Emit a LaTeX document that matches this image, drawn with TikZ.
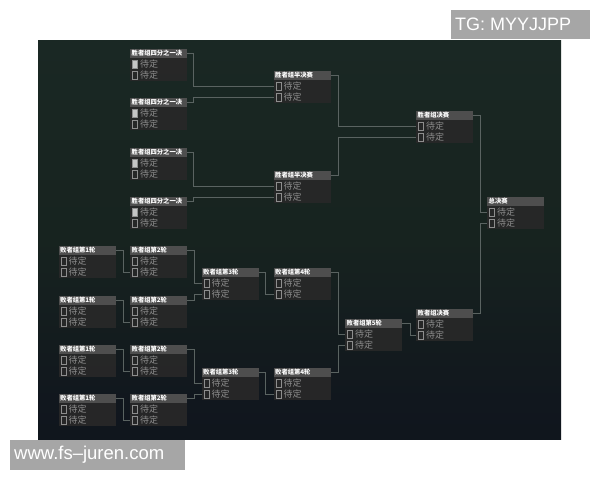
\documentclass[tikz,border=0pt]{standalone}
\usepackage{fontspec}
\setmainfont{Liberation Sans}
\newfontfamily\cjk{Noto Sans CJK SC}
\usetikzlibrary{calc}
\definecolor{pbot}{HTML}{0B0E19}
\definecolor{pmida}{HTML}{11171E}
\definecolor{pmidb}{HTML}{17231F}
\definecolor{pmidc}{HTML}{1A2824}
\definecolor{ptop}{HTML}{040605}
\definecolor{hdrc}{HTML}{4E4E4E}
\definecolor{bodyc}{HTML}{282828}
\definecolor{rowc}{HTML}{8E8E8E}
\definecolor{connc}{HTML}{5A6361}
\definecolor{wmc}{HTML}{A6A6A6}
\pgfdeclareverticalshading{panelshade}{100bp}{color(0bp)=(pbot); color(30bp)=(pmida); color(50bp)=(pmidb); color(75bp)=(pmidc); color(92bp)=(pmidc!55!ptop); color(100bp)=(ptop)}
\tikzset{
  boxbody/.style={rectangle, fill=bodyc, fill opacity=0.93, minimum width=57pt, minimum height=32pt, inner sep=0pt},
  hdrtext/.style={text=white, font=\cjk\bfseries\fontsize{6.3}{6.3}\selectfont, inner sep=0pt},
  rowtext/.style={text=rowc, font=\cjk\fontsize{9}{9}\selectfont, inner sep=0pt},
  chk/.style={rectangle, draw=rowc, line width=0.6pt, minimum width=5pt, minimum height=8pt, inner sep=0pt},
  chkon/.style={fill=rowc!50!white},
  chkoff/.style={},
  conn/.style={draw=connc, line width=0.8pt},
  wmtext/.style={text=white, inner sep=0pt}
}
\newcommand\bbox[5]{%
  \node[boxbody, anchor=north west] (#1) at (#2,#3) {};
  \fill[hdrc] (#1.north west) rectangle ($(#1.north east)+(0,8.5)$);
  \node[hdrtext, anchor=west] (#1-t) at ($(#1.north west)+(1.5,4.3)$) {#4};
  \node[chk, #5] (#1-c1) at ($(#1.north west)+(5,15.5)$) {};
  \node[rowtext, anchor=west] (#1-a) at ($(#1.north west)+(10,15.5)$) {待定};
  \node[chk] (#1-c2) at ($(#1.north west)+(5,26.5)$) {};
  \node[rowtext, anchor=west] (#1-b) at ($(#1.north west)+(10,26.5)$) {待定};
  \coordinate (#1-h) at ($(#1.north east)+(0,4.3)$);
  \coordinate (#1-r1) at ($(#1.north west)+(0,15.5)$);
  \coordinate (#1-r2) at ($(#1.north west)+(0,26.5)$);
}
\begin{document}
\begin{tikzpicture}[x=1pt,y=-1pt]
\useasboundingbox (0,0) rectangle (600,480);
\fill[white] (0,0) rectangle (600,480);
\shade[shading=panelshade] (38,40) rectangle (561,439);
% winners bracket
\bbox{q1}{130}{49}{胜者组四分之一决}{chkon}
\bbox{q2}{130}{98}{胜者组四分之一决}{chkon}
\bbox{q3}{130}{148}{胜者组四分之一决}{chkon}
\bbox{q4}{130}{197}{胜者组四分之一决}{chkon}
\bbox{s1}{273.5}{71}{胜者组半决赛}{chkoff}
\bbox{s2}{273.5}{171}{胜者组半决赛}{chkoff}
\bbox{wf}{416}{111}{胜者组决赛}{chkoff}
\bbox{gf}{487}{197}{总决赛}{chkoff}
% losers bracket
\bbox{la}{58.5}{246}{败者组第1轮}{chkoff}
\bbox{lb}{58.5}{296}{败者组第1轮}{chkoff}
\bbox{lc}{58.5}{345}{败者组第1轮}{chkoff}
\bbox{ld}{58.5}{394}{败者组第1轮}{chkoff}
\bbox{ma}{130}{246}{败者组第2轮}{chkoff}
\bbox{mb}{130}{296}{败者组第2轮}{chkoff}
\bbox{mc}{130}{345}{败者组第2轮}{chkoff}
\bbox{md}{130}{394}{败者组第2轮}{chkoff}
\bbox{na}{201.5}{268}{败者组第3轮}{chkoff}
\bbox{nb}{201.5}{368}{败者组第3轮}{chkoff}
\bbox{oa}{273.5}{268}{败者组第4轮}{chkoff}
\bbox{ob}{273.5}{368}{败者组第4轮}{chkoff}
\bbox{p5}{345}{319}{败者组第5轮}{chkoff}
\bbox{lf}{416}{309}{败者组决赛}{chkoff}
% connectors winners
\draw[conn] (q1-h) -- ++(6,0) |- (s1-r1);
\draw[conn] (q2-h) -- ++(6,0) |- (s1-r2);
\draw[conn] (q3-h) -- ++(6,0) |- (s2-r1);
\draw[conn] (q4-h) -- ++(6,0) |- (s2-r2);
\draw[conn] (s1-h) -- ++(7,0) |- (wf-r1);
\draw[conn] (s2-h) -- ++(7,0) |- (wf-r2);
\draw[conn] (wf-h) -- ++(6.5,0) |- (gf-r1);
\draw[conn] (lf-h) -- ++(6.5,0) |- (gf-r2);
% connectors losers
\draw[conn] (la-h) -- ++(7,0) |- (ma-r2);
\draw[conn] (lb-h) -- ++(7,0) |- (mb-r2);
\draw[conn] (lc-h) -- ++(7,0) |- (mc-r2);
\draw[conn] (ld-h) -- ++(7,0) |- (md-r2);
\draw[conn] (ma-h) -- ++(7,0) |- (na-r1);
\draw[conn] (mb-h) -- ++(7,0) |- (na-r2);
\draw[conn] (mc-h) -- ++(7,0) |- (nb-r1);
\draw[conn] (md-h) -- ++(7,0) |- (nb-r2);
\draw[conn] (na-h) -- ++(6,0) |- (oa-r2);
\draw[conn] (nb-h) -- ++(6,0) |- (ob-r2);
\draw[conn] (oa-h) -- ++(7,0) |- (p5-r1);
\draw[conn] (ob-h) -- ++(7,0) |- (p5-r2);
\draw[conn] (p5-h) -- ++(8,0) |- (lf-r2);
% watermarks
\fill[wmc] (451,10) rectangle (590,39);
\node[wmtext, anchor=west, font=\fontsize{18}{18}\selectfont] (wm1) at (455,24.5) {TG: MYYJJPP};
\fill[wmc] (10,440) rectangle (185,470);
\node[wmtext, anchor=west, font=\fontsize{18.5}{18.5}\selectfont] (wm2) at (14,455) {www.fs–juren.com};
\end{tikzpicture}
\end{document}
